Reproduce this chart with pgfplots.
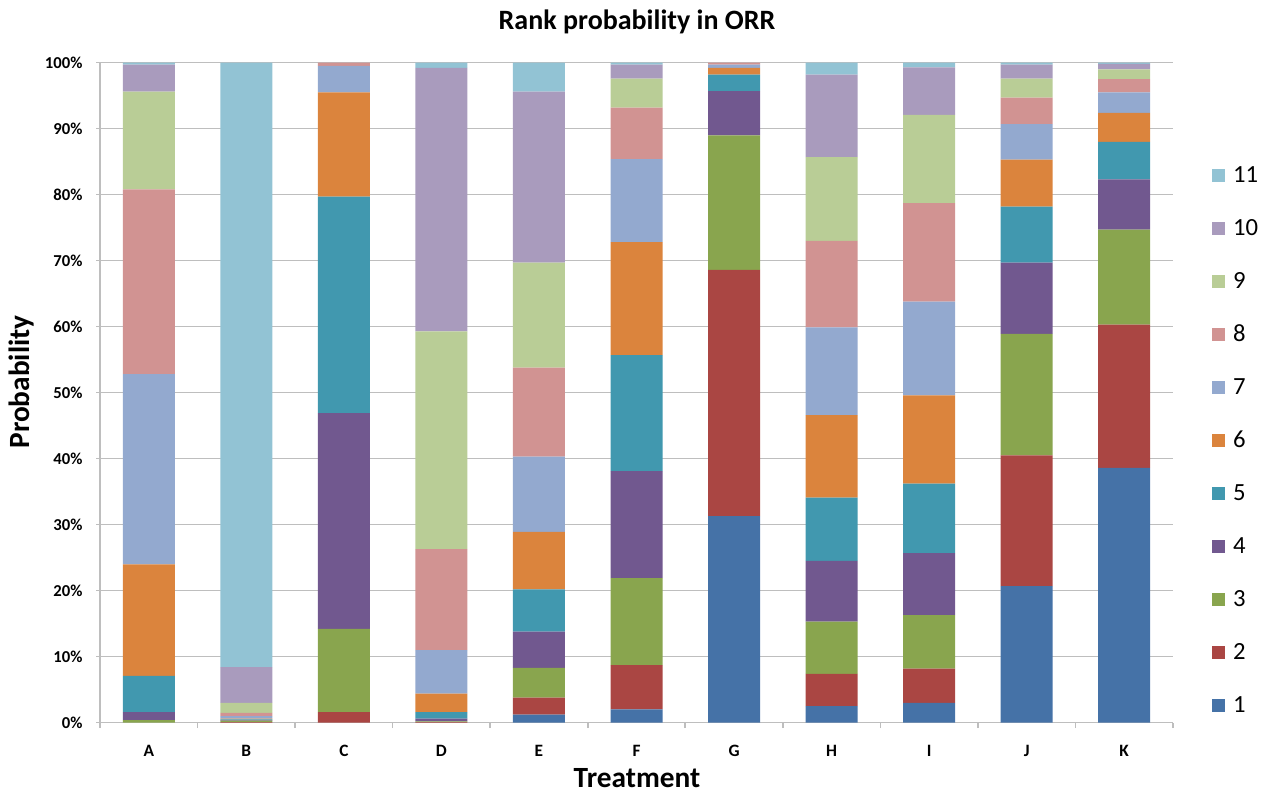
\documentclass[border=0pt]{standalone}
\usepackage{pgfplots}
\pgfplotsset{compat=1.18}
\usepackage{fontspec}
\setmainfont{Carlito}

\definecolor{c1}{HTML}{4572A7}
\definecolor{c2}{HTML}{AA4643}
\definecolor{c3}{HTML}{89A54E}
\definecolor{c4}{HTML}{71588F}
\definecolor{c5}{HTML}{4198AF}
\definecolor{c6}{HTML}{DB843D}
\definecolor{c7}{HTML}{93A9CF}
\definecolor{c8}{HTML}{D19392}
\definecolor{c9}{HTML}{B9CD96}
\definecolor{c10}{HTML}{A99BBD}
\definecolor{c11}{HTML}{92C3D4}
\definecolor{gridgray}{HTML}{BEBEBE}

\pgfplotsset{sqleg/.style={legend image code/.code={\fill[##1] (0pt,-4.9pt) rectangle (9.75pt,4.9pt);}}}

\begin{document}
\begin{tikzpicture}
% page frame, 1 px = 0.75 pt
\path (0,0) rectangle (948.75pt,595.5pt);

\begin{axis}[
    at={(75pt,53.5pt)}, anchor=south west,
    scale only axis,
    width=804.75pt, height=495pt,
    ybar stacked,
    bar width=39pt,
    xmin=-0.5, xmax=10.5,
    ymin=0, ymax=100,
    xtick={0,...,10},
    xticklabels={A,B,C,D,E,F,G,H,I,J,K},
    minor xtick={-0.5,0.5,...,10.5},
    ytick={0,10,...,100},
    yticklabels={0\%,10\%,20\%,30\%,40\%,50\%,60\%,70\%,80\%,90\%,100\%},
    tick align=outside,
    major x tick style={draw=none},
    minor tick length=4pt,
    major tick length=3pt,
    tick style={gridgray, line width=1.2pt},
    axis lines*=left,
    axis line style={gridgray, line width=1.2pt},
    ymajorgrids,
    major grid style={gridgray, line width=1.2pt},
    xticklabel style={font=\bfseries\fontsize{13}{13}\selectfont, anchor=north, inner sep=0pt, yshift=-14pt},
    yticklabel style={font=\bfseries\fontsize{12.5}{12.5}\selectfont, anchor=east, inner sep=0pt, xshift=-10pt},
    reverse legend,
    legend style={draw=none, fill=none, at={(1.0361,0.870)}, anchor=north west,
        font=\fontsize{18.5}{18.5}\selectfont, inner sep=0pt,
        nodes={inner sep=0pt, minimum height=39.75pt},
        column sep=6pt},
    legend cell align=left,
]
\addplot[fill=c1, draw=none, sqleg] coordinates {(0,0) (1,0) (2,0) (3,0) (4,1.2) (5,2.0) (6,31.3) (7,2.5) (8,3.0) (9,20.7) (10,38.6)};
\addplot[fill=c2, draw=none, sqleg] coordinates {(0,0) (1,0.1) (2,1.6) (3,0.1) (4,2.6) (5,6.7) (6,37.3) (7,4.9) (8,5.2) (9,19.8) (10,21.7)};
\addplot[fill=c3, draw=none, sqleg] coordinates {(0,0.4) (1,0.2) (2,12.6) (3,0.1) (4,4.5) (5,13.2) (6,20.4) (7,7.9) (8,8.1) (9,18.4) (10,14.4)};
\addplot[fill=c4, draw=none, sqleg] coordinates {(0,1.2) (1,0.1) (2,32.7) (3,0.4) (4,5.5) (5,16.2) (6,6.7) (7,9.2) (8,9.4) (9,10.8) (10,7.6)};
\addplot[fill=c5, draw=none, sqleg] coordinates {(0,5.5) (1,0.1) (2,32.8) (3,1.0) (4,6.4) (5,17.6) (6,2.5) (7,9.6) (8,10.5) (9,8.5) (10,5.7)};
\addplot[fill=c6, draw=none, sqleg] coordinates {(0,16.9) (1,0.1) (2,15.8) (3,2.8) (4,8.7) (5,17.1) (6,1.0) (7,12.5) (8,13.4) (9,7.1) (10,4.4)};
\addplot[fill=c7, draw=none, sqleg] coordinates {(0,28.8) (1,0.4) (2,4.0) (3,6.6) (4,11.4) (5,12.6) (6,0.5) (7,13.3) (8,14.2) (9,5.4) (10,3.1)};
\addplot[fill=c8, draw=none, sqleg] coordinates {(0,28.0) (1,0.5) (2,0.5) (3,15.3) (4,13.5) (5,7.8) (6,0.3) (7,13.1) (8,14.9) (9,4.0) (10,2.0)};
\addplot[fill=c9, draw=none, sqleg] coordinates {(0,14.8) (1,1.5) (2,0) (3,33.0) (4,15.9) (5,4.4) (6,0) (7,12.7) (8,13.4) (9,2.9) (10,1.5)};
\addplot[fill=c10, draw=none, sqleg] coordinates {(0,4.1) (1,5.4) (2,0) (3,39.9) (4,25.9) (5,2.1) (6,0) (7,12.5) (8,7.2) (9,2.1) (10,0.8)};
\addplot[fill=c11, draw=none, sqleg] coordinates {(0,0.3) (1,91.6) (2,0) (3,0.8) (4,4.4) (5,0.3) (6,0) (7,1.8) (8,0.7) (9,0.3) (10,0.2)};
\legend{1,2,3,4,5,6,7,8,9,10,11}
\end{axis}

\node[inner sep=0pt, font=\bfseries\fontsize{21}{21}\selectfont] at (477.75pt,579pt) {Rank probability in ORR};
\node[inner sep=0pt, font=\bfseries\fontsize{22}{22}\selectfont, rotate=90] at (16.5pt,309pt) {Probability};
\node[inner sep=0pt, font=\bfseries\fontsize{22}{22}\selectfont] at (477.75pt,12pt) {Treatment};
\end{tikzpicture}
\end{document}
